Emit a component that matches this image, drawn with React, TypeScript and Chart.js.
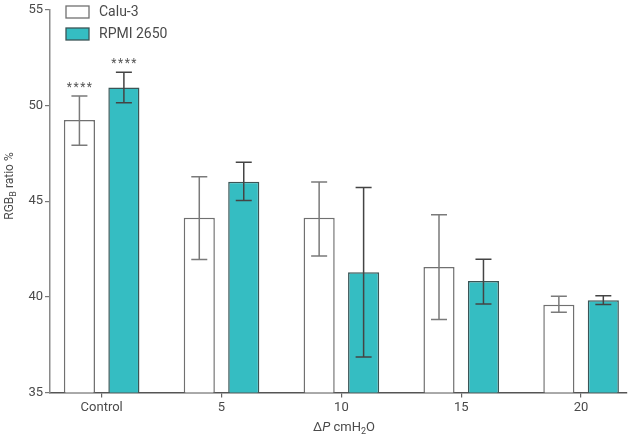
import React, { useEffect, useRef } from "react";
import { Chart, registerables } from "chart.js";
Chart.register(...registerables);

const categories = ["Control", "5", "10", "15", "20"];
const seriesNames = ["Calu-3", "RPMI 2650"];
const calu3Values = [49.24, 44.13, 44.13, 41.56, 39.58];
const calu3ErrLow = [47.92, 41.95, 42.14, 38.82, 39.2];
const calu3ErrHigh = [50.49, 46.28, 46.0, 44.29, 40.03];
const rpmiValues = [50.94, 46.02, 41.28, 40.83, 39.82];
const rpmiErrLow = [50.14, 45.04, 36.86, 39.63, 39.6];
const rpmiErrHigh = [51.74, 47.03, 45.71, 41.97, 40.05];
const calu3Marks = ["****", "", "", "", ""];
const rpmiMarks = ["****", "", "", "", ""];
const yMin = 35;
const yMax = 55;
const yStep = 5;

const TEAL = "#35bdc2";
const TEAL_BORDER = "#3b5556";
const GREY_BORDER = "#707070";
const TEXT = "#4a4a4a";
const FONT = "Roboto, 'DejaVu Sans', sans-serif";

const overlayPlugin = {
  id: "overlay",
  afterDatasetsDraw(chart: any) {
    const ctx = chart.ctx;
    const yScale = chart.scales.y;
    const errs = [
      { low: calu3ErrLow, high: calu3ErrHigh, marks: calu3Marks, color: "#7a7a7a" },
      { low: rpmiErrLow, high: rpmiErrHigh, marks: rpmiMarks, color: "#444444" },
    ];
    ctx.save();
    errs.forEach((e, d) => {
      const meta = chart.getDatasetMeta(d);
      meta.data.forEach((bar: any, i: number) => {
        const x = bar.x;
        const yl = yScale.getPixelForValue(e.low[i]);
        const yh = yScale.getPixelForValue(e.high[i]);
        ctx.strokeStyle = e.color;
        ctx.lineWidth = 1.5;
        ctx.beginPath();
        ctx.moveTo(x, yl);
        ctx.lineTo(x, yh);
        ctx.moveTo(x - 8, yh);
        ctx.lineTo(x + 8, yh);
        ctx.moveTo(x - 8, yl);
        ctx.lineTo(x + 8, yl);
        ctx.stroke();
        if (e.marks[i]) {
          ctx.fillStyle = "#555";
          ctx.font = `12px ${FONT}`;
          (ctx as any).letterSpacing = "1.5px";
          ctx.textAlign = "center";
          ctx.textBaseline = "alphabetic";
          ctx.fillText(e.marks[i], x + 0.75, yh - 5);
          (ctx as any).letterSpacing = "0px";
        }
      });
    });
    ctx.restore();
  },
  afterDraw(chart: any) {
    const ctx = chart.ctx;
    ctx.save();
    // legend
    const boxes = [
      { fill: "#ffffff", stroke: GREY_BORDER },
      { fill: TEAL, stroke: TEAL_BORDER },
    ];
    boxes.forEach((b, k) => {
      const by = 6 + k * 22;
      ctx.fillStyle = b.fill;
      ctx.fillRect(66, by, 23, 12);
      ctx.strokeStyle = b.stroke;
      ctx.lineWidth = 1.3;
      ctx.strokeRect(66, by, 23, 12);
      ctx.fillStyle = TEXT;
      ctx.font = `14px ${FONT}`;
      ctx.textAlign = "left";
      ctx.textBaseline = "middle";
      ctx.fillText(seriesNames[k], 99, by + 6.5);
    });
    // y title: RGB_B ratio %
    const cy = 186;
    ctx.translate(13, cy);
    ctx.rotate(-Math.PI / 2);
    ctx.fillStyle = TEXT;
    ctx.textBaseline = "alphabetic";
    ctx.textAlign = "left";
    const big = `12px ${FONT}`;
    const small = `9px ${FONT}`;
    ctx.font = big;
    const w1 = ctx.measureText("RGB").width;
    ctx.font = small;
    const w2 = ctx.measureText("B").width;
    ctx.font = big;
    const w3 = ctx.measureText(" ratio %").width;
    let x0 = -(w1 + w2 + w3) / 2;
    ctx.fillText("RGB", x0, 0);
    x0 += w1;
    ctx.font = small;
    ctx.fillText("B", x0, 3);
    x0 += w2;
    ctx.font = big;
    ctx.fillText(" ratio %", x0, 0);
    ctx.setTransform(1, 0, 0, 1, 0, 0);
    // x title: ΔP cmH2O
    const f13 = `13px ${FONT}`;
    const f13i = `italic 13px ${FONT}`;
    const f9 = `9px ${FONT}`;
    const parts = [
      { t: "\u0394", f: f13, dy: 0 },
      { t: "P", f: f13i, dy: 0 },
      { t: " cmH", f: f13, dy: 0 },
      { t: "2", f: f9, dy: 3 },
      { t: "O", f: f13, dy: 0 },
    ];
    let total = 0;
    parts.forEach((p) => {
      ctx.font = p.f;
      total += ctx.measureText(p.t).width;
    });
    let px = 344 - total / 2;
    const base = 431;
    parts.forEach((p) => {
      ctx.font = p.f;
      ctx.fillText(p.t, px, base + p.dy);
      px += ctx.measureText(p.t).width;
    });
    ctx.restore();
  },
};

function App() {
  const ref = useRef<HTMLCanvasElement | null>(null);
  useEffect(() => {
    if (!ref.current) return;
    const chart = new Chart(ref.current, {
      type: "bar",
      data: {
        datasets: [
          {
            label: seriesNames[0],
            data: calu3Values.map((v, i) => ({ x: i, y: v })) as any,
            backgroundColor: "#ffffff",
            borderColor: GREY_BORDER,
            borderWidth: 1.5,
            categoryPercentage: 0.742,
            barPercentage: 0.7,
          },
          {
            label: seriesNames[1],
            data: rpmiValues.map((v, i) => ({ x: i, y: v })) as any,
            backgroundColor: TEAL,
            borderColor: TEAL_BORDER,
            borderWidth: 1.5,
            categoryPercentage: 0.742,
            barPercentage: 0.7,
          },
        ],
      },
      options: {
        responsive: false,
        animation: false,
        layout: { padding: { top: 7, right: 13, left: 0, bottom: 0 } },
        plugins: { legend: { display: false }, tooltip: { enabled: false } },
        scales: {
          x: {
            type: "linear",
            offset: false,
            min: -0.431,
            max: 4.383,
            afterBuildTicks: (s: any) => {
              s.ticks = categories.map((_, i) => ({ value: i }));
            },
            afterFit: (s: any) => {
              s.height = 44.5;
            },
            grid: {
              display: true,
              drawOnChartArea: false,
              drawTicks: true,
              tickLength: 5,
              color: "#666",
              lineWidth: 1.2,
              offset: false,
            },
            border: { display: true, color: "#555", width: 1.5 },
            ticks: {
              autoSkip: false,
              maxRotation: 0,
              padding: 2,
              color: TEXT,
              font: { family: FONT, size: 13 },
              callback: (v: any) => categories[v] ?? "",
            },
          },
          y: {
            min: yMin,
            max: yMax,
            afterFit: (s: any) => {
              s.width = 50;
            },
            grid: {
              display: true,
              drawOnChartArea: false,
              drawTicks: true,
              tickLength: 5,
              color: "#777",
              lineWidth: 1.2,
            },
            border: { display: true, color: "#8a8a8a", width: 1.5 },
            ticks: {
              stepSize: yStep,
              padding: 2,
              color: TEXT,
              font: { family: FONT, size: 13 },
            },
          },
        },
      } as any,
      plugins: [overlayPlugin],
    });
    return () => chart.destroy();
  }, []);
  return (
    <div style={{ position: "fixed", left: 0, top: 0, width: 640, height: 437, background: "#fff" }}>
      <canvas ref={ref} width={640} height={437} style={{ display: "block" }} />
    </div>
  );
}

export default App;
